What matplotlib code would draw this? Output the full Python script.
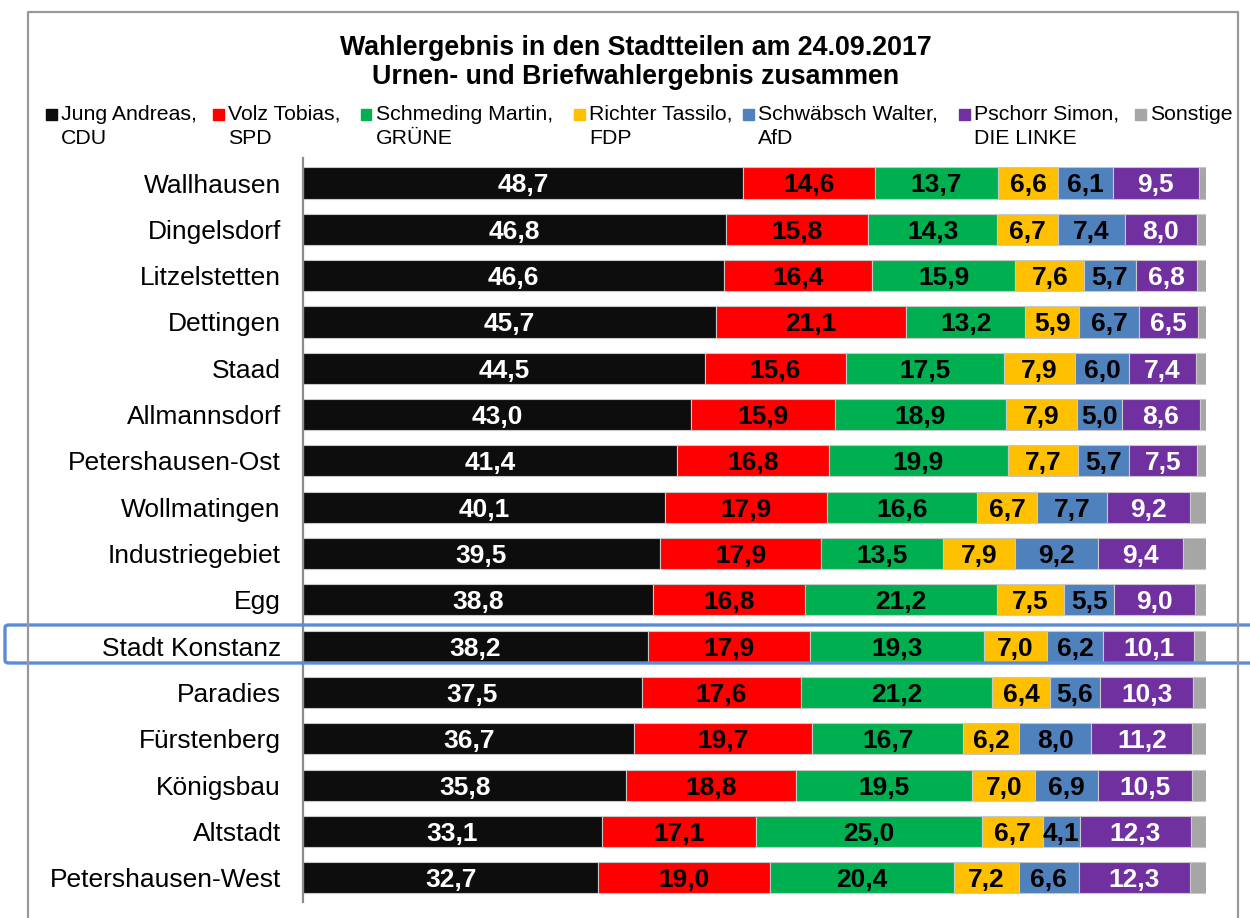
import matplotlib.pyplot as plt
from matplotlib.patches import Rectangle, FancyBboxPatch
from matplotlib.lines import Line2D
import numpy as np

plt.rcParams['font.family'] = ['Liberation Sans', 'DejaVu Sans']

# Stadtteile, von oben nach unten
stadtteile = ['Wallhausen', 'Dingelsdorf', 'Litzelstetten', 'Dettingen', 'Staad',
              'Allmannsdorf', 'Petershausen-Ost', 'Wollmatingen', 'Industriegebiet',
              'Egg', 'Stadt Konstanz', 'Paradies', 'Fürstenberg', 'Königsbau',
              'Altstadt', 'Petershausen-West']

kandidaten = ['Jung Andreas,\nCDU', 'Volz Tobias,\nSPD', 'Schmeding Martin,\nGRÜNE',
              'Richter Tassilo,\nFDP', 'Schwäbsch Walter,\nAfD', 'Pschorr Simon,\nDIE LINKE',
              'Sonstige']

cdu = [48.7, 46.8, 46.6, 45.7, 44.5, 43.0, 41.4, 40.1, 39.5, 38.8, 38.2, 37.5, 36.7, 35.8, 33.1, 32.7]
spd = [14.6, 15.8, 16.4, 21.1, 15.6, 15.9, 16.8, 17.9, 17.9, 16.8, 17.9, 17.6, 19.7, 18.8, 17.1, 19.0]
gruene = [13.7, 14.3, 15.9, 13.2, 17.5, 18.9, 19.9, 16.6, 13.5, 21.2, 19.3, 21.2, 16.7, 19.5, 25.0, 20.4]
fdp = [6.6, 6.7, 7.6, 5.9, 7.9, 7.9, 7.7, 6.7, 7.9, 7.5, 7.0, 6.4, 6.2, 7.0, 6.7, 7.2]
afd = [6.1, 7.4, 5.7, 6.7, 6.0, 5.0, 5.7, 7.7, 9.2, 5.5, 6.2, 5.6, 8.0, 6.9, 4.1, 6.6]
linke = [9.5, 8.0, 6.8, 6.5, 7.4, 8.6, 7.5, 9.2, 9.4, 9.0, 10.1, 10.3, 11.2, 10.5, 12.3, 12.3]
sonstige = [0.8, 1.0, 1.0, 0.9, 1.1, 0.7, 1.0, 1.8, 2.6, 1.2, 1.3, 1.4, 1.5, 1.5, 1.7, 1.8]

farben = ['#0d0d0d', '#ff0000', '#00b050', '#ffc000', '#4f81bd', '#7030a0', '#a6a6a6']
textfarben = ['white', 'black', 'black', 'black', 'black', 'white', None]

W, H = 1250, 918
fig = plt.figure(figsize=(12.5, 9.18), dpi=100)
ax = fig.add_axes([303 / W, 1 - 902 / H, 903 / W, 744 / H])

serien = [cdu, spd, gruene, fdp, afd, linke, sonstige]
y = np.arange(len(stadtteile))
links = np.zeros(len(stadtteile))
for werte, farbe, tf in zip(serien, farben, textfarben):
    werte = np.array(werte)
    ax.barh(y, werte, left=links, height=0.67, color=farbe,
            edgecolor='#c8c8c8', linewidth=0.8)
    if tf is not None:
        for yi, l, v in zip(y, links, werte):
            ax.text(l + v / 2, yi + 0.2, ('%.1f' % v).replace('.', ','), color=tf,
                    fontsize=19, fontweight='bold', ha='center', va='baseline')
    links = links + werte

ax.set_xlim(0, 100)
ax.set_ylim(15.52, -0.54)
ax.set_yticks(y)
ax.set_yticklabels(stadtteile, fontsize=19)
ax.set_xticks([])
ax.tick_params(axis='y', length=0, pad=16)
for s in ['top', 'right', 'bottom']:
    ax.spines[s].set_visible(False)
ax.spines['left'].set_color('#8c8c8c')
ax.spines['left'].set_linewidth(1.6)

# Titel
fig.text(0.5084, 1 - 48 / H, 'Wahlergebnis in den Stadtteilen am 24.09.2017',
         fontsize=19.3, fontweight='bold', ha='center', va='center')
fig.text(0.5084, 1 - 77 / H, 'Urnen- und Briefwahlergebnis zusammen',
         fontsize=19.3, fontweight='bold', ha='center', va='center')

# Legende
marker_x = [51, 218, 366, 579, 748, 964, 1140]
for mx, name, farbe in zip(marker_x, kandidaten, farben):
    fig.add_artist(Rectangle(((mx - 5.5) / W, 1 - 120 / H), 11 / W, 11 / H,
                             transform=fig.transFigure, color=farbe))
    zeilen = name.split('\n')
    fig.text((mx + 10) / W, 1 - 114 / H, zeilen[0], fontsize=15.3, ha='left', va='center')
    if len(zeilen) > 1:
        fig.text((mx + 10) / W, 1 - 138 / H, zeilen[1], fontsize=15.3, ha='left', va='center')

# Rahmen um das Diagramm
fig.add_artist(Line2D([28 / W, 28 / W, 1238 / W, 1238 / W],
                      [-0.05, 1 - 12 / H, 1 - 12 / H, -0.05],
                      transform=fig.transFigure, color='#999999', linewidth=1.6))

# Markierung Stadt Konstanz
fig.add_artist(FancyBboxPatch((5 / W, 1 - 663 / H), 1.2, 38 / H,
                              boxstyle='round,pad=0,rounding_size=0.003',
                              transform=fig.transFigure, fill=False,
                              edgecolor='#5b8cd4', linewidth=2.4, clip_on=False))

fig.savefig('out.png', dpi=100)
